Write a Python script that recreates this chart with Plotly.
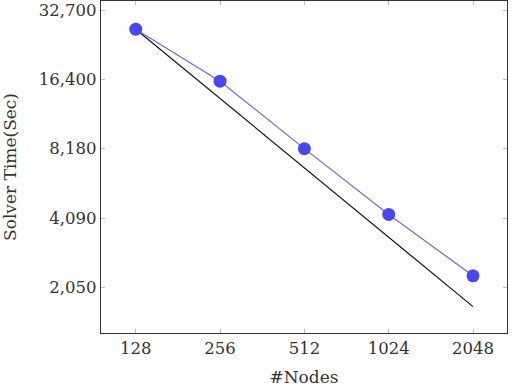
import plotly.graph_objects as go
import numpy as np

nodes = [128, 256, 512, 1024, 2048]
solver_time = [27000, 16050, 8180, 4240, 2295]
ideal_time = [27000 * nodes[0] / n for n in nodes]
x_tick_labels = ["128", "256", "512", "1024", "2048"]
y_tick_vals = [2050, 4090, 8180, 16400, 32700]
y_tick_labels = ["2,050", "4,090", "8,180", "16,400", "32,700"]

FONT = "DejaVu Serif"
TXT = "#333333"

fig = go.Figure()
fig.add_trace(go.Scatter(x=nodes, y=ideal_time, mode="lines",
                         line=dict(color="#111111", width=1.2), showlegend=False))
fig.add_trace(go.Scatter(x=nodes, y=solver_time, mode="lines+markers",
                         line=dict(color="#6a6ad0", width=1.2),
                         marker=dict(color="#4848f0", size=13),
                         showlegend=False))

axis_common = dict(showgrid=False, zeroline=False, showline=True, linecolor="#333333",
                   linewidth=1.3, mirror="allticks", ticks="inside", ticklen=4,
                   tickcolor="#bbbbbb", tickfont=dict(family=FONT, size=16.5, color=TXT))

fig.update_xaxes(type="log", range=[np.log10(96.2), np.log10(2708)],
                 tickvals=nodes, ticktext=x_tick_labels,
                 title=dict(text="#Nodes", font=dict(family=FONT, size=17, color=TXT), standoff=15),
                 **axis_common)
fig.update_yaxes(type="log", range=[np.log10(1296), np.log10(35780)],
                 tickvals=y_tick_vals, ticktext=y_tick_labels,
                 title=dict(text="Solver Time(Sec)", font=dict(family=FONT, size=17, color=TXT), standoff=18),
                 **axis_common)

fig.update_layout(width=514, height=387, margin=dict(l=101, r=7, t=1, b=54),
                  plot_bgcolor="white", paper_bgcolor="white")

fig.write_html("out.html")
